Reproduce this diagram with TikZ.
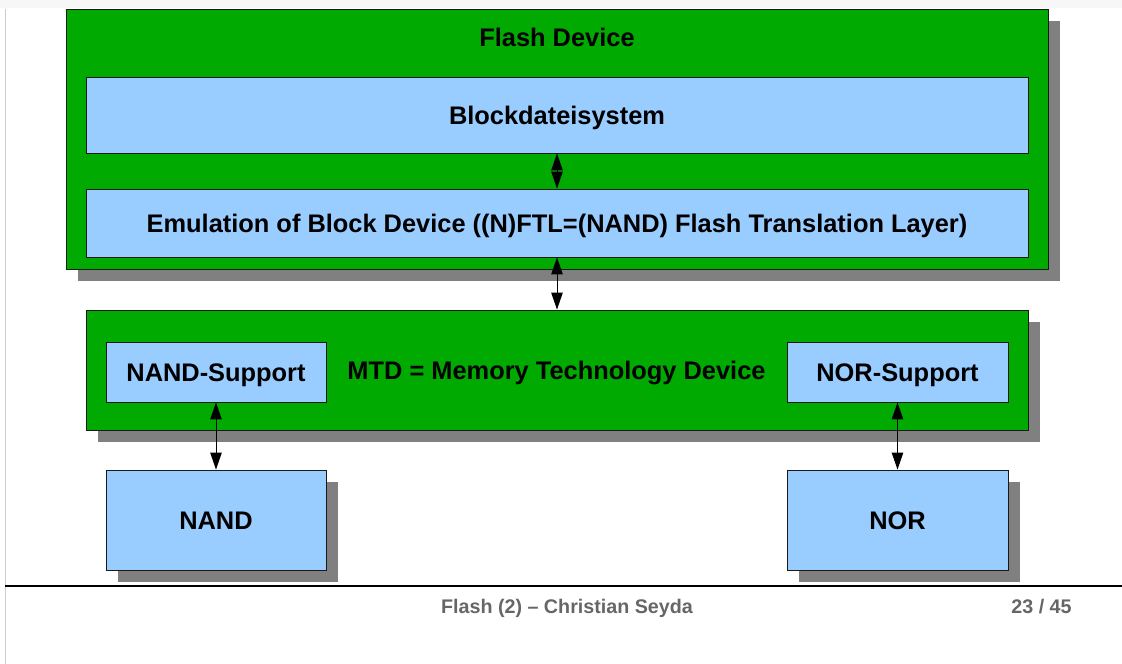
\documentclass[tikz,border=0pt]{standalone}
\usepackage{fontspec}
\setmainfont{Liberation Sans}
\usetikzlibrary{shadows,arrows.meta}

\definecolor{devgreen}{RGB}{0,170,0}
\definecolor{boxblue}{RGB}{153,204,255}
\definecolor{shadowgray}{RGB}{128,128,128}
\definecolor{footgray}{RGB}{102,102,102}
\definecolor{edgegray}{RGB}{204,204,204}
\definecolor{stripgray}{RGB}{247,247,247}

\tikzset{
  layer/.style={draw=black!90, line width=0.9pt, fill=devgreen, inner sep=0pt},
  part/.style={draw=black!90, line width=0.9pt, fill=boxblue, inner sep=0pt,
    font=\fontsize{25.4}{30}\selectfont\bfseries, text height=18pt, text depth=0pt},
  shadowed/.style={drop shadow={shadow xshift=12pt, shadow yshift=-12pt,
    fill=shadowgray, opacity=1}},
  caption/.style={font=\fontsize{25.4}{30}\selectfont\bfseries, inner sep=0pt,
    text height=18pt, text depth=0pt},
  footer/.style={font=\fontsize{19.7}{23}\selectfont\bfseries, text=footgray,
    inner sep=0pt, anchor=base},
  link/.style={line width=1pt, {Triangle[length=17pt,width=11.5pt]}-{Triangle[length=17pt,width=11.5pt]}}
}

\begin{document}
\begin{tikzpicture}[x=1pt, y=-1pt]
  \useasboundingbox (0,0) rectangle (1122,664);

  % page frame
  \fill[stripgray] (0,0) rectangle (1122,8);
  \draw[edgegray, line width=1pt] (5.5,9) -- (5.5,664);

  % Flash device with its two layers
  \node[layer, shadowed, minimum width=982pt, minimum height=260pt] (dev) at (557,139) {};
  \node[caption] (devlabel) at (557,37) {Flash Device};
  \node[part, minimum width=942pt, minimum height=76pt] (bfs) at (557,115) {Blockdateisystem};
  \node[part, minimum width=942pt, minimum height=68pt] (emu) at (557,223)
    {Emulation of Block Device ((N)FTL=(NAND) Flash Translation Layer)};

  % MTD layer
  \node[layer, shadowed, minimum width=942pt, minimum height=120pt] (mtd) at (557,370) {};
  \node[caption] (mtdlabel) at (556.5,370) {MTD = Memory Technology Device};
  \node[part, minimum width=220pt, minimum height=60pt] (nands) at (216,372) {NAND-Support};
  \node[part, minimum width=221pt, minimum height=60pt] (nors) at (897.5,372) {NOR-Support};

  % chips
  \node[part, shadowed, minimum width=220pt, minimum height=100pt] (nand) at (216,520) {NAND};
  \node[part, shadowed, minimum width=221pt, minimum height=100pt] (nor) at (897.5,520) {NOR};

  % connections
  \draw[link] (bfs) -- (emu);
  \draw[link] (emu) -- (mtd);
  \draw[link] (nands) -- (nand);
  \draw[link] (nors) -- (nor);

  % footer
  \coordinate (fl) at (5,586);
  \coordinate (fr) at (1122,586);
  \draw[black, line width=1.3pt] (fl) -- (fr);
  \node[footer] (title) at (567,613) {Flash (2) \textendash{} Christian Seyda};
  \node[footer] (page) at (1041.5,613) {23 / 45};
\end{tikzpicture}
\end{document}
